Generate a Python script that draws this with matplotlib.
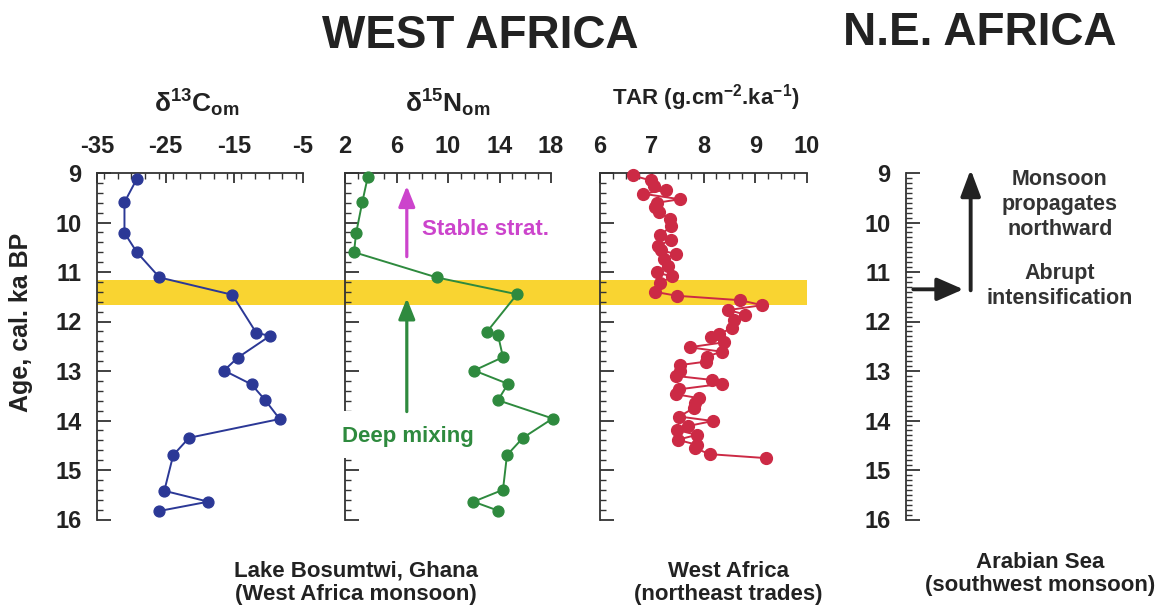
import matplotlib
matplotlib.use("Agg")
import matplotlib.pyplot as plt
from matplotlib.ticker import MultipleLocator

# data (age in cal. ka BP)
c13_age = [9.12, 9.59, 10.21, 10.60, 11.11, 11.46, 12.23, 12.29, 12.73, 12.99,
           13.27, 13.59, 13.97, 14.35, 14.70, 15.42, 15.64, 15.83]
c13_val = [-29.2, -31.0, -31.0, -29.2, -25.9, -15.3, -11.8, -9.8, -14.5, -16.5,
           -12.5, -10.5, -8.4, -21.6, -23.9, -25.2, -18.8, -26.0]

n15_age = [9.09, 9.58, 10.22, 10.60, 11.11, 11.45, 12.21, 12.27, 12.72, 12.99,
           13.26, 13.59, 13.96, 14.35, 14.70, 15.40, 15.64, 15.82]
n15_val = [3.76, 3.35, 2.86, 2.70, 9.13, 15.36, 13.02, 13.88, 14.27, 12.03,
           14.66, 13.88, 18.13, 15.82, 14.58, 14.27, 11.98, 13.88]

tar_age = [9.05, 9.15, 9.26, 9.34, 9.42, 9.53, 9.60, 9.69, 9.79, 9.93,
           10.08, 10.26, 10.35, 10.47, 10.56, 10.64, 10.74, 10.88, 11.01, 11.09,
           11.23, 11.40, 11.48, 11.57, 11.67, 11.77, 11.86, 11.97, 12.14, 12.25,
           12.32, 12.42, 12.52, 12.61, 12.71, 12.81, 12.88, 12.99, 13.10, 13.18,
           13.26, 13.37, 13.47, 13.55, 13.65, 13.75, 13.92, 14.01, 14.11, 14.19,
           14.29, 14.39, 14.49, 14.56, 14.68, 14.76]
tar_val = [6.63, 6.98, 7.05, 7.27, 6.84, 7.54, 7.11, 7.06, 7.14, 7.35,
           7.37, 7.16, 7.37, 7.13, 7.18, 7.47, 7.23, 7.32, 7.10, 7.39,
           7.15, 7.06, 7.48, 8.71, 9.13, 8.48, 8.81, 8.58, 8.55, 8.29,
           8.14, 8.40, 7.73, 8.35, 8.06, 8.05, 7.55, 7.55, 7.47, 8.16,
           8.35, 7.53, 7.47, 7.92, 7.84, 7.81, 7.53, 8.18, 7.71, 7.48,
           7.87, 7.50, 7.87, 7.84, 8.12, 9.21]

band_age = (11.17, 11.67)
age_ticks = [9, 10, 11, 12, 13, 14, 15, 16]
c13_ticks = [-35, -25, -15, -5]
n15_ticks = [2, 6, 10, 14, 18]
tar_ticks = [6, 7, 8, 9, 10]

plt.rcParams['font.family'] = ['Liberation Sans', 'DejaVu Sans']
plt.rcParams['font.weight'] = 'bold'
plt.rcParams['mathtext.fontset'] = 'custom'
plt.rcParams['mathtext.rm'] = 'Liberation Sans:bold'
plt.rcParams['mathtext.bf'] = 'Liberation Sans:bold'
plt.rcParams['mathtext.it'] = 'Liberation Sans:bold'

INK = '#222222'
W, H = 1161, 605
fig = plt.figure(figsize=(W / 100, H / 100), dpi=100)


def rect(x0, x1, y0=173, y1=519.5):
    return [x0 / W, 1 - y1 / H, (x1 - x0) / W, (y1 - y0) / H]


def fig_xy(x, y):
    return x / W, 1 - y / H


def arrow(ax, start, end, color, hw=0.5, hl=1.25, lw=2.3):
    ax.annotate('', xy=end, xytext=start, annotation_clip=False,
                arrowprops=dict(arrowstyle=f'-|>,head_width={hw},head_length={hl}',
                                color=color, lw=lw, mutation_scale=10,
                                shrinkA=0, shrinkB=0),
                zorder=5)


def style_axes(ax, xticks, xmin, ylabels=False, ymin=0.2):
    ax.set_facecolor('none')
    ax.set_ylim(16, 9)
    ax.spines['right'].set_visible(False)
    ax.spines['bottom'].set_visible(False)
    for s in ('left', 'top'):
        ax.spines[s].set_linewidth(1.3)
        ax.spines[s].set_color('#333333')
    ax.xaxis.tick_top()
    ax.set_xticks(xticks, [str(t) for t in xticks])
    ax.xaxis.set_minor_locator(MultipleLocator(xmin))
    ax.set_yticks(age_ticks)
    ax.yaxis.set_minor_locator(MultipleLocator(ymin))
    ax.tick_params(axis='x', which='major', direction='in', length=7, width=1.3,
                   pad=11, labelsize=17, colors='#333333', labelcolor=INK)
    ax.tick_params(axis='x', which='minor', direction='in', length=4, width=1,
                   colors='#333333')
    ax.tick_params(axis='y', which='major', direction='in', length=10, width=1.3,
                   pad=11, labelsize=17, colors='#333333', labelcolor=INK,
                   labelleft=ylabels)
    ax.tick_params(axis='y', which='minor', direction='in', length=4, width=1,
                   colors='#333333')
    for lab in ax.get_xticklabels() + ax.get_yticklabels():
        lab.set_fontweight('bold')


# d13C panel
ax1 = fig.add_axes(rect(97, 303))
ax1.set_xlim(-35, -5)
style_axes(ax1, c13_ticks, 2, ylabels=True)
ax1.plot(c13_val, c13_age, '-o', color='#2b3896', lw=1.4, ms=7.8, zorder=4,
         clip_on=False)
ax1.axhspan(band_age[0], band_age[1], xmin=0, xmax=(807 - 97) / 206,
            color='#f9d431', lw=0, zorder=0, clip_on=False)
ax1.set_ylabel('Age, cal. ka BP', fontsize=18, fontweight='bold', color=INK)
ax1.yaxis.set_label_coords(-0.31, 0.57)

# d15N panel
ax2 = fig.add_axes(rect(345, 551))
ax2.set_xlim(2, 18)
style_axes(ax2, n15_ticks, 1)
ax2.plot(n15_val, n15_age, '-o', color='#2e8a3e', lw=1.4, ms=7.8, zorder=4,
         clip_on=False)
ax2.axhspan(13.8, 14.76, xmin=-0.05, xmax=0.2, color='white', lw=0,
            zorder=3, clip_on=False)
arrow(ax2, (6.8, 10.69), (6.8, 9.26), '#cc44cc')
arrow(ax2, (6.8, 13.82), (6.8, 11.53), '#2e8a3e')
ax2.text(8.0, 10.15, 'Stable strat.', color='#cc44cc', fontsize=16,
         fontweight='bold', ha='left', va='center')
ax2.text(6.9, 14.33, 'Deep mixing', color='#2e8a3e', fontsize=16,
         fontweight='bold', ha='center', va='center', zorder=6)

# TAR panel
ax3 = fig.add_axes(rect(600, 807))
ax3.set_xlim(6, 10)
style_axes(ax3, tar_ticks, 0.25)
ax3.plot(tar_val, tar_age, '-o', color='#cc2a45', lw=1.4, ms=8.5, zorder=4,
         clip_on=False)

# Arabian Sea panel
ax4 = fig.add_axes(rect(906, 1150))
ax4.set_xlim(0, 1)
style_axes(ax4, [], 1, ylabels=True, ymin=0.1)
ax4.spines['top'].set_visible(False)
ax4.tick_params(axis='x', which='both', top=False, labeltop=False)
arrow(ax4, (0.03, 11.35), (0.235, 11.35), INK, hw=0.7, hl=1.6, lw=2.8)
arrow(ax4, (0.265, 11.37), (0.265, 8.93), INK, hw=0.6, hl=1.6, lw=2.8)
ax4.text(0.63, 9.63, 'Monsoon\npropagates\nnorthward', fontsize=15.5,
         fontweight='bold', ha='center', va='center', color='#333333',
         linespacing=1.25)
ax4.text(0.63, 11.29, 'Abrupt\nintensification', fontsize=15.5,
         fontweight='bold', ha='center', va='center', color='#333333',
         linespacing=1.25)

# headers and axis titles
fig.text(*fig_xy(480, 36), 'WEST AFRICA', fontsize=33, fontweight='bold',
         ha='center', va='center', color=INK)
fig.text(*fig_xy(980, 33), 'N.E. AFRICA', fontsize=33, fontweight='bold',
         ha='center', va='center', color=INK)
fig.text(*fig_xy(197, 103), r'$\mathbf{\delta^{13}C_{om}}$', fontsize=19,
         ha='center', va='center', color=INK)
fig.text(*fig_xy(448, 103), r'$\mathbf{\delta^{15}N_{om}}$', fontsize=19,
         ha='center', va='center', color=INK)
fig.text(*fig_xy(706, 98), r'TAR (g.cm$^{\mathbf{-2}}$.ka$^{\mathbf{-1}}$)',
         fontsize=16, fontweight='bold', ha='center', va='center', color=INK)

# site captions
fig.text(*fig_xy(356, 583), 'Lake Bosumtwi, Ghana\n(West Africa monsoon)',
         fontsize=16, fontweight='bold', ha='center', va='center',
         color=INK, linespacing=1.15)
fig.text(*fig_xy(728, 583), 'West Africa\n(northeast trades)',
         fontsize=16, fontweight='bold', ha='center', va='center',
         color=INK, linespacing=1.15)
fig.text(*fig_xy(1040, 574), 'Arabian Sea\n(southwest monsoon)',
         fontsize=16, fontweight='bold', ha='center', va='center',
         color=INK, linespacing=1.15)

fig.savefig('out.png', dpi=100)
